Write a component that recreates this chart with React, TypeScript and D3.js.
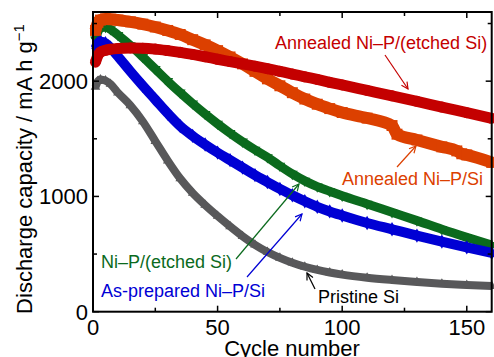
import React, { useRef, useEffect } from "react";
import * as d3 from "d3";

const cycles = [1, 2, 3, 5, 7, 10, 15, 20, 25, 30, 35, 40, 45, 50, 55, 60, 65, 70, 75, 80, 85, 90, 95, 100, 110, 120, 130, 140, 150, 160];

const pristineSi = [1950, 2000, 2015, 2005, 1975, 1900, 1790, 1650, 1480, 1310, 1155, 1030, 925, 830, 740, 655, 580, 518, 467, 425, 390, 362, 340, 322, 295, 275, 258, 243, 232, 222];
const asPrepared = [2285, 2330, 2345, 2330, 2290, 2215, 2085, 1960, 1840, 1720, 1610, 1525, 1450, 1380, 1315, 1250, 1185, 1125, 1065, 1010, 958, 910, 870, 835, 770, 715, 660, 608, 558, 510];
const etchedSi = [2360, 2430, 2460, 2470, 2450, 2400, 2310, 2210, 2105, 2000, 1900, 1805, 1715, 1630, 1550, 1475, 1405, 1340, 1265, 1195, 1135, 1085, 1045, 1005, 935, 862, 790, 715, 645, 578];
const annealedEtched = [2165, 2225, 2252, 2268, 2277, 2284, 2288, 2286, 2278, 2265, 2250, 2232, 2212, 2190, 2170, 2150, 2130, 2108, 2085, 2062, 2038, 2015, 1990, 1967, 1920, 1873, 1825, 1775, 1727, 1678];

// annealed Ni-P/Si has a step near cycle 121, so it keeps its own cycles
const annealedCycles = [1, 2, 3, 5, 7, 10, 15, 20, 25, 30, 35, 40, 45, 50, 55, 60, 65, 70, 75, 80, 85, 90, 95, 100, 110, 120, 122, 130, 140, 146, 148, 150, 160];
const annealedSi = [2440, 2510, 2530, 2540, 2538, 2530, 2515, 2495, 2470, 2440, 2405, 2360, 2315, 2265, 2210, 2150, 2085, 2020, 1960, 1900, 1845, 1800, 1762, 1728, 1680, 1615, 1540, 1490, 1430, 1395, 1370, 1360, 1295];

const xTicks = [0, 50, 100, 150];
const xMinor = [25, 75, 125];
const yTicks = [0, 1000, 2000];
const yMinor = [500, 1500, 2500];

type Series = { xs: number[]; ys: number[]; color: string; symbol: d3.SymbolType; size: number; width: number; flip?: boolean };

export default function App() {
  const svgRef = useRef<SVGSVGElement>(null);

  useEffect(() => {
    if (!svgRef.current) return;
    const svg = d3.select(svgRef.current);
    svg.selectAll("*").remove();

    const font = "'Liberation Sans', Arial, sans-serif";
    const margin = { left: 93, right: 2.3, top: 12, bottom: 45.3 };
    const width = 494;
    const height = 357;
    const innerW = width - margin.left - margin.right;
    const innerH = height - margin.top - margin.bottom;

    const x = d3.scaleLinear().domain([0, 160]).range([0, innerW]);
    const y = d3.scaleLinear().domain([0, 2600]).range([innerH, 0]);

    const g = svg.append("g").attr("transform", `translate(${margin.left},${margin.top})`);

    const series: Series[] = [
      { xs: cycles, ys: pristineSi, color: "#58585a", symbol: d3.symbolTriangle, size: 40, width: 8 },
      { xs: cycles, ys: etchedSi, color: "#0b6a1d", symbol: d3.symbolTriangle, size: 50, width: 9, flip: true },
      { xs: cycles, ys: asPrepared, color: "#0000d4", symbol: d3.symbolDiamond, size: 60, width: 10 },
      { xs: annealedCycles, ys: annealedSi, color: "#dc4000", symbol: d3.symbolSquare, size: 120, width: 12 },
      { xs: cycles, ys: annealedEtched, color: "#c40000", symbol: d3.symbolCircle, size: 95, width: 11 },
    ];

    series.forEach((s) => {
      const pts = s.xs.map((c, i) => [x(c), y(s.ys[i])] as [number, number]);
      g.append("path")
        .datum(pts)
        .attr("fill", "none")
        .attr("stroke", s.color)
        .attr("stroke-width", s.width)
        .attr("d", d3.line().curve(d3.curveMonotoneX));
      g.selectAll(null)
        .data(pts)
        .enter()
        .append("path")
        .attr("transform", (p) => `translate(${p[0]},${p[1]})${s.flip ? " rotate(180)" : ""}`)
        .attr("d", d3.symbol().type(s.symbol).size(s.size)())
        .attr("fill", s.color);
    });

    // frame
    g.append("rect")
      .attr("width", innerW)
      .attr("height", innerH)
      .attr("fill", "none")
      .attr("stroke", "#000")
      .attr("stroke-width", 2);

    // inward ticks on all four sides
    const tick = (v: number, len: number, axis: "x" | "y") => {
      if (axis === "x") {
        g.append("line").attr("x1", x(v)).attr("x2", x(v)).attr("y1", innerH).attr("y2", innerH - len).attr("stroke", "#000").attr("stroke-width", 1.5);
        g.append("line").attr("x1", x(v)).attr("x2", x(v)).attr("y1", 0).attr("y2", len).attr("stroke", "#000").attr("stroke-width", 1.5);
      } else {
        g.append("line").attr("x1", 0).attr("x2", len).attr("y1", y(v)).attr("y2", y(v)).attr("stroke", "#000").attr("stroke-width", 1.5);
        g.append("line").attr("x1", innerW).attr("x2", innerW - len).attr("y1", y(v)).attr("y2", y(v)).attr("stroke", "#000").attr("stroke-width", 1.5);
      }
    };
    xTicks.forEach((v) => tick(v, 6, "x"));
    xMinor.forEach((v) => tick(v, 4, "x"));
    yTicks.forEach((v) => tick(v, 6, "y"));
    yMinor.forEach((v) => tick(v, 4, "y"));

    xTicks.forEach((v) => {
      g.append("text")
        .attr("x", x(v))
        .attr("y", innerH + 23)
        .attr("text-anchor", "middle")
        .style("font-family", font)
        .style("font-size", "22px")
        .text(v);
    });
    yTicks.forEach((v) => {
      g.append("text")
        .attr("x", -5)
        .attr("y", y(v) + 8)
        .attr("text-anchor", "end")
        .style("font-family", font)
        .style("font-size", "22px")
        .text(v);
    });

    svg.append("text")
      .attr("x", 292)
      .attr("y", 356)
      .attr("text-anchor", "middle")
      .style("font-family", font)
      .style("font-size", "22px")
      .text("Cycle number");

    const yl = svg.append("text")
      .attr("transform", "translate(32,169) rotate(-90)")
      .attr("text-anchor", "middle")
      .style("font-family", font)
      .style("font-size", "22px");
    yl.append("tspan").text("Discharge capacity / mA h g");
    yl.append("tspan").attr("dy", -8).style("font-size", "15px").text("\u22121");

    // annotations with arrows (pixel positions of the labels)
    const defs = svg.append("defs");
    const notes = [
      { text: "Annealed Ni\u2013P/(etched Si)", color: "#c40000", tx: 275, ty: 49, x1: 385, y1: 55, x2: 408, y2: 89 },
      { text: "Annealed Ni\u2013P/Si", color: "#dc4000", tx: 342, ty: 185, x1: 397, y1: 167, x2: 416, y2: 146 },
      { text: "Ni\u2013P/(etched Si)", color: "#0b6a1d", tx: 101, ty: 268, x1: 236, y1: 259, x2: 299, y2: 184 },
      { text: "As-prepared Ni\u2013P/Si", color: "#0000d4", tx: 101, ty: 297, x1: 247, y1: 277, x2: 302, y2: 214 },
      { text: "Pristine Si", color: "#000000", tx: 318, ty: 303, x1: 315, y1: 289, x2: 307, y2: 273 },
    ];
    notes.forEach((n, i) => {
      defs.append("marker")
        .attr("id", `arr${i}`)
        .attr("viewBox", "0 0 10 10")
        .attr("refX", 9)
        .attr("refY", 5)
        .attr("markerWidth", 7)
        .attr("markerHeight", 7)
        .attr("orient", "auto")
        .append("path")
        .attr("d", "M1,1 L9,5 L1,9")
        .attr("fill", "none")
        .attr("stroke", n.color)
        .attr("stroke-width", 1.4);
      svg.append("line")
        .attr("x1", n.x1).attr("y1", n.y1).attr("x2", n.x2).attr("y2", n.y2)
        .attr("stroke", n.color)
        .attr("stroke-width", 1.2)
        .attr("marker-end", `url(#arr${i})`);
      svg.append("text")
        .attr("x", n.tx)
        .attr("y", n.ty)
        .style("font-family", font)
        .style("font-size", "18px")
        .style("fill", n.color)
        .text(n.text);
    });
  }, []);

  return (
    <div style={{ position: "fixed", left: 0, top: 0, width: 494, height: 357, background: "#fff" }}>
      <svg ref={svgRef} width={494} height={357} />
    </div>
  );
}
